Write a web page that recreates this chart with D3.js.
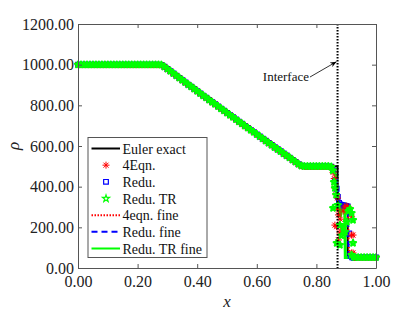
<!DOCTYPE html>
<html lang="en">
<head>
  <meta charset="UTF-8">
  <script src="https://d3js.org/d3.v7.min.js"></script>
</head>
<style>
  body{
    margin:0;
    background:white;
  }
  svg text{
    font-family: "Liberation Serif", "DejaVu Serif", serif;
  }
</style>
<body>
  <div id="chart"></div>
</body>
<script>
// mesh cells away from the interface, shared by the three coarse runs
var leftX = [0.00,0.01,0.02,0.03,0.04,0.05,0.06,0.07,0.08,0.09,0.10,0.11,0.12,0.13,0.14,0.15,0.16,0.17,0.18,0.19,
  0.20,0.21,0.22,0.23,0.24,0.25,0.26,0.27,0.28,0.29,0.30,0.31,0.32,0.33,0.34,0.35,0.36,0.37,0.38,0.39,
  0.40,0.41,0.42,0.43,0.44,0.45,0.46,0.47,0.48,0.49,0.50,0.51,0.52,0.53,0.54,0.55,0.56,0.57,0.58,0.59,
  0.60,0.61,0.62,0.63,0.64,0.65,0.66,0.67,0.68,0.69,0.70,0.71,0.72,0.73,0.74,0.75,0.76,0.77,0.78,0.79,
  0.80,0.81,0.82,0.83,0.84,0.85];
var leftRho = [1000,1000,1000,1000,1000,1000,1000,1000,1000,1000,1000,1000,1000,1000,1000,1000,1000,1000,1000,1000,
  1000,1000,1000,1000,1000,1000,1000,1000,999,990,979,968,957,946,935,924,913,902,892,881,
  870,859,848,838,827,816,806,795,784,774,763,752,742,731,720,710,699,689,678,668,
  657,647,636,626,615,605,594,584,574,563,553,543,532,522,511,503,500,500,500,500,
  500,500,500,500,500,498];
var rightX = [0.93,0.94,0.95,0.96,0.97,0.98,0.99,1.00];
var rightRho = [52,52,52,52,52,52,52,52];

// cells around the interface for each run
var eqn4X = [0.856,0.860,0.862,0.866,0.871,0.870,0.874,0.862,0.868,0.879,0.874,0.885,0.880,0.890,0.895,0.900,0.905,0.910,0.918,0.918,0.918,0.923,0.923,0.928];
var eqn4Rho = [470,440,393,360,344,290,261,211,203,172,138,187,240,280,300,305,300,290,252,162,74,162,74,52];
var reduX = [0.856,0.862,0.868,0.872,0.876,0.880,0.885,0.890,0.895,0.900,0.905,0.910,0.915,0.920,0.925];
var reduRho = [480,430,390,350,320,312,310,308,306,305,303,170,60,52,50];
var reduTRX = [0.855,0.859,0.862,0.866,0.856,0.872,0.879,0.868,0.879,0.884,0.890,0.896,0.902,0.908,0.913,0.918,0.923,0.923,0.918,0.925];
var reduTRRho = [480,423,393,360,295,310,211,123,113,160,200,177,226,280,290,270,236,123,64,55];

// exact solution and fine mesh runs
var exactX = [0,0.27,0.29,0.40,0.50,0.60,0.70,0.745,0.871,0.871,0.905,0.905,1.0];
var exactRho = [1000,1000,990,870,763,657,553,500,500,300,300,50,50];
var fine4X = [0,0.27,0.29,0.40,0.50,0.60,0.70,0.74,0.76,0.85,0.86,0.87,0.875,0.88,0.905,0.91,1.0];
var fine4Rho = [1000,1000,990,870,763,657,553,511,500,500,470,400,320,300,300,52,50];
var fineReduX = [0,0.27,0.29,0.40,0.50,0.60,0.70,0.74,0.75,0.76,0.85,0.86,0.87,0.875,0.88,0.906,0.908,1.0];
var fineReduRho = [1000,1000,988,868,761,655,550,505,490,494,496,470,400,330,312,310,52,50];
var fineTRX = [0,0.27,0.29,0.40,0.50,0.60,0.70,0.74,0.76,0.85,0.86,0.865,0.87,0.875,0.88,0.885,0.89,0.895,0.897,1.0];
var fineTRRho = [1000,1000,990,870,763,657,553,511,500,500,485,450,380,300,250,290,305,310,52,52];

var interfaceX = 0.871;
var xTicks = [0,0.2,0.4,0.6,0.8,1.0];
var yTicks = [0,200,400,600,800,1000,1200];

var width = 415, height = 312;
var plotLeft = 78, plotRight = 376, plotTop = 24, plotBottom = 268;

var svg = d3.select("#chart").append("svg")
  .attr("width", width)
  .attr("height", height);

var xScale = d3.scaleLinear().domain([0,1]).range([plotLeft,plotRight]);
var yScale = d3.scaleLinear().domain([0,1200]).range([plotBottom,plotTop]);

function pairs(xs, ys){
  return xs.map(function(d,i){ return [d, ys[i]]; });
}
var line = d3.line()
  .x(function(d){ return xScale(d[0]); })
  .y(function(d){ return yScale(d[1]); });

// coarse cells = left part + interface part + right part
function cells(ix, irho){
  return pairs(leftX, leftRho).concat(pairs(ix, irho)).concat(pairs(rightX, rightRho));
}

var plot = svg.append("g");

// exact solution
plot.append("path")
  .attr("d", line(pairs(exactX, exactRho)))
  .attr("fill","none").attr("stroke","black").attr("stroke-width",2);

// fine lines
plot.append("path")
  .attr("d", line(pairs(fine4X, fine4Rho)))
  .attr("fill","none").attr("stroke","#ff0000").attr("stroke-width",2)
  .attr("stroke-dasharray","1.5,1.5");
plot.append("path")
  .attr("d", line(pairs(fineReduX, fineReduRho)))
  .attr("fill","none").attr("stroke","#0000ff").attr("stroke-width",2)
  .attr("stroke-dasharray","6,4");
plot.append("path")
  .attr("d", line(pairs(fineTRX, fineTRRho)))
  .attr("fill","none").attr("stroke","#00ff00").attr("stroke-width",3);

// marker shapes
var asterisk = "M-3.5,0L3.5,0M0,-3.5L0,3.5M-2.5,-2.5L2.5,2.5M-2.5,2.5L2.5,-2.5";
var starSym = d3.symbol().type(d3.symbolStar).size(11);
var squareSym = d3.symbol().type(d3.symbolSquare).size(22);

function drawMarkers(g, data, kind, colour){
  var sel = g.selectAll(null).data(data).enter().append("path")
    .attr("transform", function(d){ return "translate(" + xScale(d[0]) + "," + yScale(d[1]) + ")"; })
    .attr("fill","none")
    .attr("stroke", colour);
  if(kind == "ast") sel.attr("d", asterisk).attr("stroke-width",1);
  if(kind == "sq") sel.attr("d", squareSym()).attr("stroke-width",1.2);
  if(kind == "star") sel.attr("d", starSym()).attr("stroke-width",2.2).attr("stroke-linejoin","round");
}

drawMarkers(plot.append("g"), cells(reduX, reduRho), "sq", "#0000ff");
drawMarkers(plot.append("g"), cells(eqn4X, eqn4Rho), "ast", "#ff0000");
drawMarkers(plot.append("g"), cells(reduTRX, reduTRRho), "star", "#00ff00");

// interface line
plot.append("line")
  .attr("x1", xScale(interfaceX)).attr("x2", xScale(interfaceX))
  .attr("y1", plotTop).attr("y2", plotBottom)
  .attr("stroke","black").attr("stroke-width",2)
  .attr("stroke-dasharray","1.5,1.5");

// axes, ticks pointing inward like matlab
var axisColour = "#555";
function styleAxis(g, showText){
  g.attr("font-family", null);
  g.select(".domain").attr("stroke", axisColour);
  g.selectAll(".tick line").attr("stroke", axisColour);
  g.selectAll("text")
    .attr("fill", showText ? "#222" : "none")
    .attr("font-size", "16px");
}
var xAxis = d3.axisBottom(xScale).tickValues(xTicks).tickFormat(d3.format(".2f"))
  .tickSizeInner(-4).tickSizeOuter(0).tickPadding(8);
var yAxis = d3.axisLeft(yScale).tickValues(yTicks).tickFormat(d3.format(".2f"))
  .tickSizeInner(-4).tickSizeOuter(0).tickPadding(4);

svg.append("g").attr("transform","translate(0," + plotBottom + ")").call(xAxis).call(styleAxis, true);
svg.append("g").attr("transform","translate(" + plotLeft + ",0)").call(yAxis).call(styleAxis, true);
svg.append("g").attr("transform","translate(0," + plotTop + ")")
  .call(d3.axisTop(xScale).tickValues(xTicks).tickSizeInner(-4).tickSizeOuter(0).tickFormat(""))
  .call(styleAxis, false);
svg.append("g").attr("transform","translate(" + plotRight + ",0)")
  .call(d3.axisRight(yScale).tickValues(yTicks).tickSizeInner(-4).tickSizeOuter(0).tickFormat(""))
  .call(styleAxis, false);

// axis titles
svg.append("text")
  .attr("x", (plotLeft+plotRight)/2).attr("y", 307)
  .attr("text-anchor","middle")
  .attr("font-size","17px").attr("font-style","italic")
  .attr("fill","#222")
  .text("x");
svg.append("text")
  .attr("transform","translate(19," + ((plotTop+plotBottom)/2) + ") rotate(-90)")
  .attr("text-anchor","middle")
  .attr("font-size","17px").attr("font-style","italic")
  .attr("fill","#222")
  .text("\u03C1");

// interface annotation
svg.append("defs").append("marker")
  .attr("id","arrow")
  .attr("viewBox","0 0 10 10")
  .attr("refX",10).attr("refY",5)
  .attr("markerWidth",8).attr("markerHeight",8)
  .attr("orient","auto")
  .append("path").attr("d","M0,1L10,5L0,9L3,5Z").attr("fill","black");
svg.append("line")
  .attr("x1",310).attr("y1",77)
  .attr("x2",xScale(interfaceX)-1).attr("y2",yScale(1000)-3)
  .attr("stroke","black").attr("stroke-width",0.8)
  .attr("marker-end","url(#arrow)");
svg.append("text")
  .attr("x",309).attr("y",81)
  .attr("text-anchor","end")
  .attr("font-size","13px")
  .attr("fill","#111")
  .text("Interface");

// legend
var legendNames = ["Euler exact","4Eqn.","Redu.","Redu. TR","4eqn. fine","Redu. fine","Redu. TR fine"];
var legendKinds = ["line","ast","sq","star","dot","dash","line"];
var legendColours = ["black","#ff0000","#0000ff","#00ff00","#ff0000","#0000ff","#00ff00"];

var legend = svg.append("g");
legend.append("rect")
  .attr("x",88).attr("y",137.5).attr("width",119).attr("height",120)
  .attr("fill","white").attr("stroke",axisColour).attr("stroke-width",1);

var rowY = d3.scaleLinear().domain([0,6]).range([148.5,248.5]);
legendNames.forEach(function(name,i){
  var y = rowY(i);
  var k = legendKinds[i];
  if(k == "line" || k == "dot" || k == "dash"){
    var l = legend.append("line")
      .attr("x1",91.5).attr("x2",120).attr("y1",y).attr("y2",y)
      .attr("stroke",legendColours[i]).attr("stroke-width",2);
    if(k == "dot") l.attr("stroke-dasharray","1.5,1.5");
    if(k == "dash") l.attr("stroke-dasharray","6,4");
  } else {
    var m = legend.append("path")
      .attr("transform","translate(106," + y + ")")
      .attr("fill","none").attr("stroke",legendColours[i]);
    if(k == "ast") m.attr("d", asterisk).attr("stroke-width",1);
    if(k == "sq") m.attr("d", squareSym()).attr("stroke-width",1.2);
    if(k == "star") m.attr("d", d3.symbol().type(d3.symbolStar).size(16)()).attr("stroke-width",1.1);
  }
  legend.append("text")
    .attr("x",122.5).attr("y",y+5)
    .attr("font-size","14px")
    .attr("fill","#111")
    .text(name);
});
</script>
</html>
